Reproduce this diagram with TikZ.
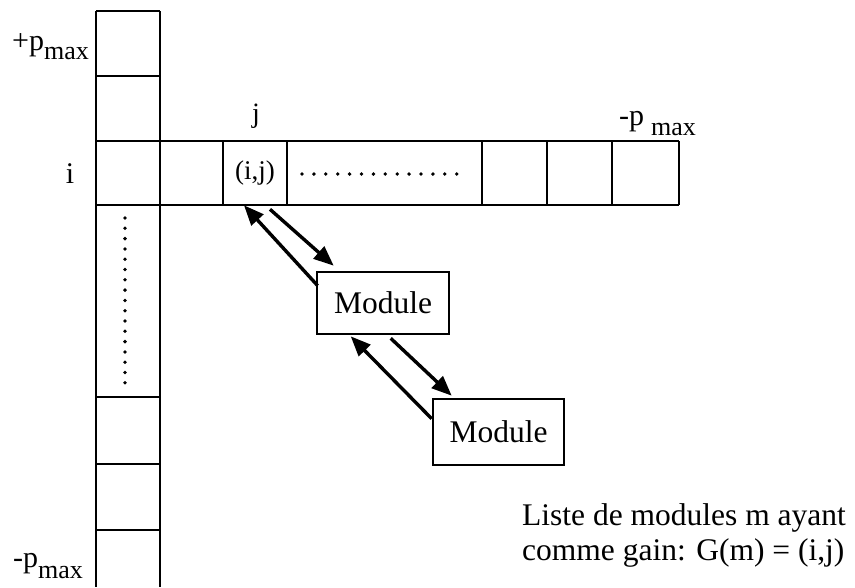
\documentclass[tikz,border=0pt]{standalone}
\usepackage{fontspec}
\setmainfont{Liberation Serif}
\usetikzlibrary{arrows.meta,calc}
\begin{document}
\begin{tikzpicture}[x=1pt,y=-1pt,
  grid/.style={line width=2.6pt},
  cellbox/.style={draw,line width=2.6pt,minimum width=64pt,minimum height=64pt,inner sep=0pt},
  modbox/.style={draw,line width=2.6pt,inner sep=0pt,font=\fontsize{31.5}{31.5}\selectfont},
  link/.style={line width=3.4pt,-{Triangle[length=20pt,width=16pt]}},
  lab/.style={inner sep=0pt,font=\fontsize{30}{30}\selectfont},
  txt/.style={inner sep=0pt,anchor=base west,font=\fontsize{31.5}{31.5}\selectfont}]
\useasboundingbox (0,0) rectangle (855,587);
% vertical column
\draw[grid] (96,11) -- (96,587);
\draw[grid] (160,11) -- (160,587);
\foreach \y in {11,76,397,464,530}
  \draw[grid] (96,\y) -- (160,\y);
% horizontal row
\draw[grid] (96,141) -- (679,141);
\draw[grid] (96,205) -- (679,205);
\foreach \x in {482,547,612,679}
  \draw[grid] (\x,141) -- (\x,205);
\draw[grid] (160,141) -- (160,205);
% cell (i,j)
\node[cellbox,font=\fontsize{27}{27}\selectfont] (cellij) at (255,173) {(i,j)};
% dots
\foreach \k in {0,...,13}
  \fill ({302+\k*11.9},174) circle (1.9pt);
\foreach \k in {0,...,16}
  \fill (125,{218+\k*10.3}) circle (1.9pt);
% labels
\node[lab,anchor=base west] (pmaxtop) at (12,50) {+p\raisebox{-9pt}{\fontsize{26}{26}\selectfont max}};
\node[lab,anchor=base west] (pmaxbot) at (13,567) {-p\raisebox{-11pt}{\fontsize{26}{26}\selectfont max}};
\node[lab,anchor=base west] (pmaxright) at (619,125) {-p\hspace{7pt}\raisebox{-10pt}{\fontsize{26}{26}\selectfont max}};
\node[lab,anchor=base] (ilab) at (70,183) {i};
\node[lab,anchor=base,font=\fontsize{28}{28}\selectfont] (jlab) at (256,122) {j};
% modules
\node[modbox,minimum width=132pt,minimum height=62pt] (mod1) at (383,303) {Module};
\node[modbox,minimum width=131pt,minimum height=66pt] (mod2) at (498.5,432) {Module};
% arrows
\draw[link] ($(mod1.north west)+(2,15)$) -- ($(cellij.south)+(-11,-1)$);
\draw[link] ($(cellij.south)+(15,3)$) -- ($(mod1.north west)+(18,-5)$);
\draw[link] ($(mod2.north west)+(0,21)$) -- ($(mod1.south west)+(35,1)$);
\draw[link] ($(mod1.south west)+(75,3)$) -- ($(mod2.north west)+(20,-2)$);
% caption
\node[txt] (cap1) at (522,525) {Liste de modules m ayant};
\node[txt] (cap2) at (522,560) {comme gain: G(m) = (i,j)};
\end{tikzpicture}
\end{document}
